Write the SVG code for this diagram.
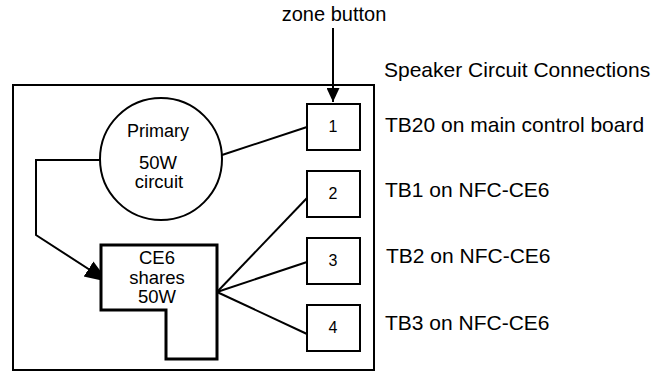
<svg xmlns="http://www.w3.org/2000/svg" width="664" height="372" viewBox="0 0 664 372">
<style>
text{font-family:"Liberation Sans",Arial,sans-serif;fill:#000}
.ln{fill:none;stroke:#000;stroke-width:2}
.bx{fill:#fff;stroke:#000;stroke-width:2}
.lbl{font-size:21px}
.num{font-size:16px;text-anchor:middle}
.mid{text-anchor:middle}
</style>
<defs>
<marker id="ah" markerUnits="userSpaceOnUse" markerWidth="24" markerHeight="20" refX="22" refY="9" orient="auto" viewBox="0 0 24 18">
<path d="M0,0 L24,9 L0,18 Z" fill="#000"/>
</marker>
<marker id="ah2" markerUnits="userSpaceOnUse" markerWidth="14" markerHeight="13" refX="14" refY="6.5" orient="auto" viewBox="0 0 14 13">
<path d="M0,0 L14,6.5 L0,13 Z" fill="#000"/>
</marker>
</defs>
<g id="frame">
<rect x="13" y="85" width="361" height="285" class="ln"/>
</g>
<g id="title">
<text x="384" y="77" class="lbl">Speaker Circuit Connections</text>
</g>
<g id="zone-button">
<text x="334" y="21" class="mid" font-size="20">zone button</text>
</g>
<g id="connectors">
<path d="M333,28 L333,102" class="ln" marker-end="url(#ah2)"/>
<path d="M222,155 L307,127" class="ln"/>
<path d="M100,160 L36,160 L36,235 L107,281" class="ln" marker-end="url(#ah)"/>
<path d="M217,292 L307,198" class="ln"/>
<path d="M217,292 L307,262" class="ln"/>
<path d="M217,292 L307,334" class="ln"/>
</g>
<g id="primary">
<circle cx="161" cy="159" r="61" class="bx"/>
<text x="158" y="137" class="mid" font-size="18">Primary</text>
<text x="158" y="169" class="mid" font-size="18.5">50W</text>
<text x="159" y="188" class="mid" font-size="18.5">circuit</text>
</g>
<g id="ce6">
<polygon points="101,245 217,245 217,359 166,359 166,310 101,310" fill="#fff" stroke="#000" stroke-width="3"/>
<text x="157" y="264" class="mid" font-size="18.5">CE6</text>
<text x="157" y="284" class="mid" font-size="18.5">shares</text>
<text x="157" y="303" class="mid" font-size="18.5">50W</text>
</g>
<g id="tb1">
<rect x="307" y="104" width="53" height="46" class="bx"/>
<text x="333" y="132" class="num">1</text>
<text x="385" y="132" class="lbl">TB20 on main control board</text>
</g>
<g id="tb2">
<rect x="307" y="171" width="53" height="46" class="bx"/>
<text x="333" y="199" class="num">2</text>
<text x="385" y="197" class="lbl">TB1 on NFC-CE6</text>
</g>
<g id="tb3">
<rect x="307" y="238" width="53" height="46" class="bx"/>
<text x="333" y="266" class="num">3</text>
<text x="386" y="263" class="lbl">TB2 on NFC-CE6</text>
</g>
<g id="tb4">
<rect x="307" y="305" width="53" height="46" class="bx"/>
<text x="333" y="333" class="num">4</text>
<text x="385" y="330" class="lbl">TB3 on NFC-CE6</text>
</g>
</svg>
